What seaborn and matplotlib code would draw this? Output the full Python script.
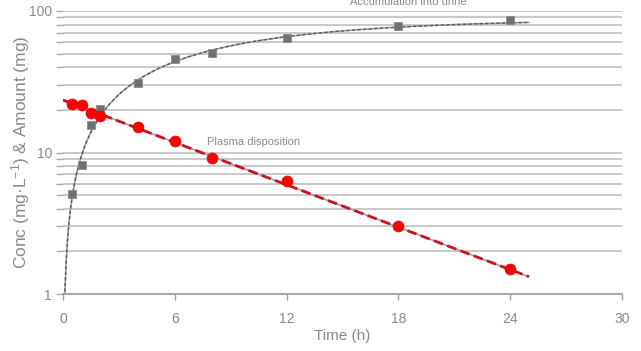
import numpy as np
import pandas as pd
import matplotlib
matplotlib.use("Agg")
import matplotlib.pyplot as plt
import seaborn as sns
from matplotlib.ticker import FixedLocator, LogLocator, NullFormatter, FuncFormatter

# Observed plasma concentrations (mg/L)
time_plasma = [0.5, 1, 1.5, 2, 4, 6, 8, 12, 18, 24]
conc_plasma = [22.0, 21.6, 19.1, 18.2, 15.2, 12.0, 9.1, 6.3, 3.0, 1.5]

# Observed cumulative amount excreted in urine (mg)
time_urine = [0.5, 1, 1.5, 2, 4, 6, 8, 12, 18, 24]
amount_urine = [5.1, 8.2, 15.6, 20.3, 30.8, 45.6, 50.3, 64.8, 78.4, 86.0]

# One-compartment fit parameters
plasma_c0 = 23.5      # mg/L at t = 0
elim_k = 0.115        # 1/h
urine_amax = 88.0     # mg excreted at infinity

x_ticks = [0, 6, 12, 18, 24, 30]
y_ticks = [1, 10, 100]

sns.set_theme(style="white")
plt.rcParams["font.family"] = ["Liberation Sans", "DejaVu Sans"]
plt.rcParams["mathtext.fontset"] = "custom"
plt.rcParams["mathtext.rm"] = "Liberation Sans"
plt.rcParams["mathtext.it"] = "Liberation Sans"
plt.rcParams["mathtext.bf"] = "Liberation Sans:bold"

grey_txt = "#8a8a8a"

fig = plt.figure(figsize=(6.41, 3.51), dpi=100)
ax = fig.add_axes([63 / 641, 1 - 294 / 351, (622 - 63) / 641, (294 - 11) / 351])

# fitted curves
t_fit_p = np.linspace(0, 25, 200)
t_fit_u = np.linspace(0.05, 25, 400)
fit_plasma = pd.DataFrame({"t": t_fit_p, "c": plasma_c0 * np.exp(-elim_k * t_fit_p)})
fit_urine = pd.DataFrame({"t": t_fit_u, "a": urine_amax * (1 - np.exp(-elim_k * t_fit_u))})

sns.lineplot(data=fit_urine, x="t", y="a", ax=ax, color="#a8a8a8", lw=1.2, zorder=3)
sns.lineplot(data=fit_urine, x="t", y="a", ax=ax, color="#5a5a5a", lw=1.0,
             zorder=3).lines[-1].set_dashes([2.5, 1.5])
sns.lineplot(data=fit_plasma, x="t", y="c", ax=ax, color="#a0a0a0", lw=1.2, zorder=3)
ln = sns.lineplot(data=fit_plasma, x="t", y="c", ax=ax, color="#c8141e", lw=2.0, zorder=4).lines[-1]
ln.set_dashes([3.5, 1.6])

obs_u = pd.DataFrame({"t": time_urine, "a": amount_urine})
obs_p = pd.DataFrame({"t": time_plasma, "c": conc_plasma})
sns.scatterplot(data=obs_u, x="t", y="a", ax=ax, marker="s", s=30,
                color="#707070", edgecolor="#8c8c8c", linewidth=0.6, zorder=5)
sns.scatterplot(data=obs_p, x="t", y="c", ax=ax, marker="o", s=62,
                color="#ff0000", edgecolor="#f00000", linewidth=0.5, zorder=6)

ax.set_yscale("log")
ax.set_xlim(0, 30)
ax.set_ylim(1, 100)

ax.xaxis.set_major_locator(FixedLocator(x_ticks))
ax.yaxis.set_major_locator(FixedLocator(y_ticks))
ax.yaxis.set_major_formatter(FuncFormatter(lambda v, p: f"{v:g}"))
ax.yaxis.set_minor_locator(LogLocator(base=10, subs=np.arange(2, 10)))
ax.yaxis.set_minor_formatter(NullFormatter())

ax.grid(True, which="both", axis="y", color="#c8c8c8", lw=1.4)
ax.grid(False, axis="x")

for s in ["top", "right", "left"]:
    ax.spines[s].set_visible(False)
ax.spines["bottom"].set_color("#a0a0a0")
ax.spines["bottom"].set_linewidth(1.3)

ax.tick_params(axis="x", which="major", direction="out", length=4, width=1,
               color="#a0a0a0", labelcolor=grey_txt, labelsize=10, pad=9, bottom=True)
ax.tick_params(axis="y", which="both", direction="out", length=5, width=1,
               color="#a8a8a8", labelcolor=grey_txt, labelsize=10, pad=3, left=True)

ax.set_xlabel("Time (h)", color=grey_txt, fontsize=11, labelpad=2)
ax.set_ylabel("Conc (mg\u00b7L$^{-1}$) & Amount (mg)", color=grey_txt, fontsize=12.5)
ax.yaxis.set_label_coords(-31 / 559, 0.5)

ax.text(7.75, 11.9, "Plasma disposition", color=grey_txt, fontsize=8,
        ha="left", va="center")
fig.text(350 / 641, 1 - 5 / 351, "Accumulation into urine", color=grey_txt,
         fontsize=8, ha="left", va="baseline")

fig.savefig("out.png", dpi=100)
